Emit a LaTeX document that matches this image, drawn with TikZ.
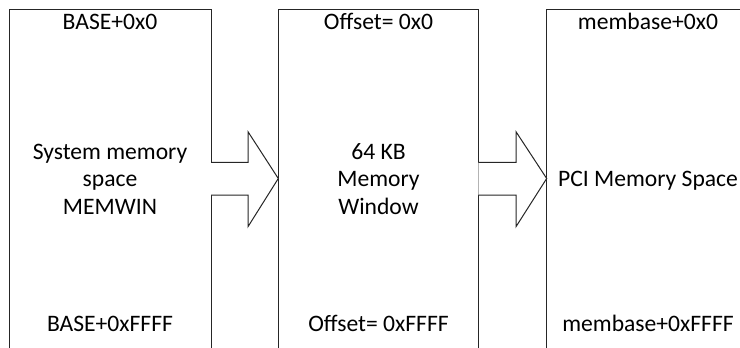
\documentclass[tikz,border=0pt]{standalone}
\usepackage{fontspec}
\setmainfont{Carlito}
\begin{document}
\begin{tikzpicture}[x=0.75pt,y=-0.75pt,
  memblock/.style={draw=black!85, line width=0.75pt, fill=white},
  lbl/.style={font=\fontsize{17.7pt}{20.6pt}\selectfont, inner sep=0pt, anchor=base},
  midlbl/.style={font=\fontsize{17.7pt}{20.6pt}\selectfont, inner sep=0pt, align=center},
  blockarrow/.style={draw=black!85, line width=0.75pt, fill=white, line join=miter}
]
\useasboundingbox (0,0) rectangle (740,347);
\clip (0,0) rectangle (740,347);
% boxes
\draw[memblock] (9,9) rectangle (211,380);
\draw[memblock] (278.3,9) rectangle (478.3,380);
\draw[memblock] (546.7,9) rectangle (749,380);
\coordinate (b1e) at (211,178.5);
\coordinate (b2w) at (278.3,178.5);
\coordinate (b2e) at (478.3,178.5);
\coordinate (b3w) at (546.7,178.5);
% block arrows
\draw[blockarrow] (b1e) ++(0,-16.2) -- ++(37,0) -- ++(0,-30.6) -- (b2w) -- ++(-30.3,48.2) -- ++(0,-31.7) -- ++(-37,0);
\draw[blockarrow] (b2e) ++(0,-16.2) -- ++(37.7,0) -- ++(0,-30.6) -- (b3w) -- ++(-30.7,48.2) -- ++(0,-31.7) -- ++(-37.7,0);
% labels
\node[lbl] (t1) at (110,29.5) {BASE+0x0};
\node[lbl] (t2) at (378.5,29.5) {Offset= 0x0};
\node[lbl] (t3) at (648,29.5) {membase+0x0};
\node[lbl] (u1) at (110,331.5) {BASE+0xFFFF};
\node[lbl] (u2) at (378.5,331.5) {Offset= 0xFFFF};
\node[lbl] (u3) at (648,331.5) {membase+0xFFFF};
\node[midlbl] (m1) at (110,179) {System memory\\space\\MEMWIN};
\node[midlbl] (m2) at (378.5,179) {64 KB\\Memory\\Window};
\node[lbl] (m3) at (648,186) {PCI Memory Space};
\end{tikzpicture}
\end{document}
